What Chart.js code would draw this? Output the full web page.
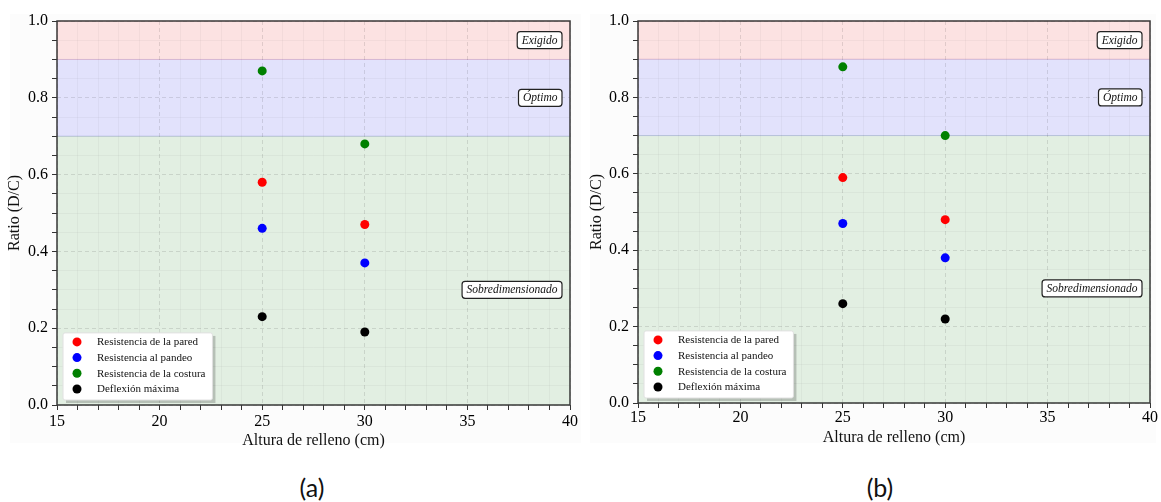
<!DOCTYPE html>
<html>
<head>
<meta charset="utf-8">
<script src="https://cdn.jsdelivr.net/npm/chart.js@4.4.0/dist/chart.umd.min.js"></script>
<style>
  body { margin: 0; width: 1161px; height: 502px; background: #fff; position: relative; overflow: hidden; }
  .panel { position: absolute; top: 14px; height: 429px; background: #fcfcfc; }
  .holder { position: absolute; top: 0; }
  .caption { position: absolute; top: 472px; width: 60px; text-align: center; font: 25px Lato, "Open Sans", sans-serif; color: #111; }
</style>
</head>
<body>
<div class="panel" style="left:10px;width:571px"></div>
<div class="panel" style="left:590px;width:566px"></div>
<div class="holder" style="left:0px"><canvas id="chartA" width="580" height="450"></canvas></div>
<div class="holder" style="left:580px"><canvas id="chartB" width="581" height="450"></canvas></div>
<div class="caption" style="left:282px">(a)</div>
<div class="caption" style="left:850px">(b)</div>

<script>
// categories (filling height, cm)
const xValues = [25, 30];
const seriesNames = ["Resistencia de la pared", "Resistencia al pandeo", "Resistencia de la costura", "Deflexión máxima"];

// case (a)
const paredA = [0.58, 0.47];
const pandeoA = [0.46, 0.37];
const costuraA = [0.87, 0.68];
const deflexionA = [0.23, 0.19];

// case (b)
const paredB = [0.59, 0.48];
const pandeoB = [0.47, 0.38];
const costuraB = [0.88, 0.70];
const deflexionB = [0.26, 0.22];

// axis ticks
const xTickLabels = [15, 20, 25, 30, 35, 40];
const yTickLabels = [0, 0.2, 0.4, 0.6, 0.8, 1.0];

// design zones
const bandEdges = [0, 0.7, 0.9, 1.0];
const bandNames = ["Sobredimensionado", "Óptimo", "Exigido"];
const bandLabelY = [0.3, 0.8, 0.95];

// styles
const seriesColors = ["#ff0000", "#0000ff", "#008000", "#000000"];
const bandColors = ["rgba(0,128,0,0.1)", "rgba(0,0,255,0.1)", "rgba(255,0,0,0.1)"];
const SERIF = "'Liberation Serif', 'DejaVu Serif', serif";

Chart.defaults.font.family = SERIF;
Chart.defaults.color = "#111";

const isIn = (list, v) => list.some(m => Math.abs(m - v) < 1e-6);

const zonesPlugin = {
  id: "zones",
  beforeDraw(chart) {
    const { ctx, chartArea: a, scales: { y } } = chart;
    ctx.save();
    bandNames.forEach((name, i) => {
      const top = y.getPixelForValue(bandEdges[i + 1]);
      const bottom = y.getPixelForValue(bandEdges[i]);
      ctx.fillStyle = bandColors[i];
      ctx.fillRect(a.left, top, a.width, bottom - top);
      ctx.strokeStyle = bandColors[i];
      ctx.lineWidth = 1;
      ctx.strokeRect(a.left, top, a.width, bottom - top);
    });
    ctx.restore();
  },
  afterDatasetsDraw(chart) {
    const { ctx, chartArea: a, scales: { y } } = chart;
    ctx.save();

    // zone labels
    ctx.font = "italic 11.5px " + SERIF;
    ctx.textBaseline = "middle";
    ctx.textAlign = "center";
    bandNames.forEach((name, i) => {
      const w = ctx.measureText(name).width + 9;
      const h = 17;
      const cx = a.right - 8 - w / 2;
      const cy = y.getPixelForValue(bandLabelY[i]);
      ctx.beginPath();
      ctx.roundRect(cx - w / 2, cy - h / 2, w, h, 3);
      ctx.fillStyle = "#fff";
      ctx.fill();
      ctx.strokeStyle = "#222";
      ctx.lineWidth = 1.2;
      ctx.stroke();
      ctx.fillStyle = "#111";
      ctx.fillText(name, cx, cy + 0.5);
    });

    // legend box
    const sets = chart.data.datasets;
    ctx.font = "11px " + SERIF;
    const textW = Math.max(...sets.map(d => ctx.measureText(d.label).width));
    const rowH = 15.7;
    const boxW = 34 + textW + 7;
    const boxH = 9 + rowH * (sets.length - 1) + 11;
    const bx = a.left + 6;
    const by = a.bottom - 5 - boxH;
    ctx.fillStyle = "rgba(0,0,0,0.2)";
    ctx.fillRect(bx + 3, by + 3, boxW, boxH);
    ctx.beginPath();
    ctx.roundRect(bx, by, boxW, boxH, 2);
    ctx.fillStyle = "#fff";
    ctx.fill();
    ctx.strokeStyle = "#e0e0e0";
    ctx.lineWidth = 1;
    ctx.stroke();
    ctx.textAlign = "left";
    sets.forEach((d, i) => {
      const ry = by + 9 + i * rowH;
      ctx.beginPath();
      ctx.arc(bx + 14, ry, 4.5, 0, Math.PI * 2);
      ctx.fillStyle = d.backgroundColor;
      ctx.fill();
      ctx.fillStyle = "#111";
      ctx.fillText(d.label, bx + 34, ry + 0.5);
    });

    // frame
    ctx.strokeStyle = "#3a3a3a";
    ctx.lineWidth = 1.5;
    ctx.strokeRect(a.left, a.top, a.width, a.height);
    ctx.restore();
  }
};

function makeChart(id, values, lay) {
  return new Chart(document.getElementById(id), {
    type: "scatter",
    data: {
      datasets: seriesNames.map((name, i) => ({
        label: name,
        data: xValues.map((x, j) => ({ x: x, y: values[i][j] })),
        backgroundColor: seriesColors[i],
        borderColor: seriesColors[i],
        borderWidth: 0,
        pointRadius: 4.5,
        pointHoverRadius: 4.5
      }))
    },
    options: {
      responsive: false,
      animation: false,
      layout: { padding: { left: 0, right: lay.right, top: 21, bottom: 0 } },
      plugins: { legend: { display: false }, tooltip: { enabled: false } },
      scales: {
        x: {
          type: "linear",
          min: 15,
          max: 40,
          afterFit: s => { s.height = lay.xHeight; },
          ticks: {
            stepSize: 1,
            autoSkip: false,
            maxRotation: 0,
            padding: lay.xTickPad,
            color: "#000",
            font: { family: SERIF, size: 16 },
            callback: v => isIn(xTickLabels, v) ? String(v) : ""
          },
          grid: {
            color: c => c.tick && isIn(xTickLabels, c.tick.value) ? "rgba(0,0,0,0.11)" : "rgba(0,0,0,0.035)",
            tickColor: "#333",
            tickLength: 5,
            tickWidth: 1,
            tickBorderDash: []
          },
          border: { display: false, dash: c => c.tick && isIn(xTickLabels, c.tick.value) ? [4, 3] : [] },
          title: {
            display: true,
            text: "Altura de relleno (cm)",
            color: "#111",
            font: { family: SERIF, size: 16 },
            padding: { top: 0, bottom: lay.xTitlePad }
          }
        },
        y: {
          min: 0,
          max: 1,
          afterFit: s => { s.width = lay.yWidth; },
          ticks: {
            stepSize: 0.05,
            autoSkip: false,
            padding: 4,
            color: "#000",
            font: { family: SERIF, size: 16 },
            callback: v => isIn(yTickLabels, v) ? v.toFixed(1) : ""
          },
          grid: {
            color: c => c.tick && isIn(yTickLabels, c.tick.value) ? "rgba(0,0,0,0.11)" : "rgba(0,0,0,0.035)",
            tickColor: "#333",
            tickLength: 5,
            tickWidth: 1,
            tickBorderDash: []
          },
          border: { display: false, dash: c => c.tick && isIn(yTickLabels, c.tick.value) ? [4, 3] : [] },
          title: {
            display: true,
            text: "Ratio (D/C)",
            color: "#111",
            font: { family: SERIF, size: 16 },
            padding: { top: lay.yTitlePad, bottom: 0 }
          }
        }
      }
    },
    plugins: [zonesPlugin]
  });
}

makeChart("chartA", [paredA, pandeoA, costuraA, deflexionA],
  { right: 8, xHeight: 45, yWidth: 57, xTickPad: 2, xTitlePad: 0, yTitlePad: 5 });
makeChart("chartB", [paredB, pandeoB, costuraB, deflexionB],
  { right: 11, xHeight: 47, yWidth: 58, xTickPad: 0, xTitlePad: 3, yTitlePad: 7 });
</script>
</body>
</html>
